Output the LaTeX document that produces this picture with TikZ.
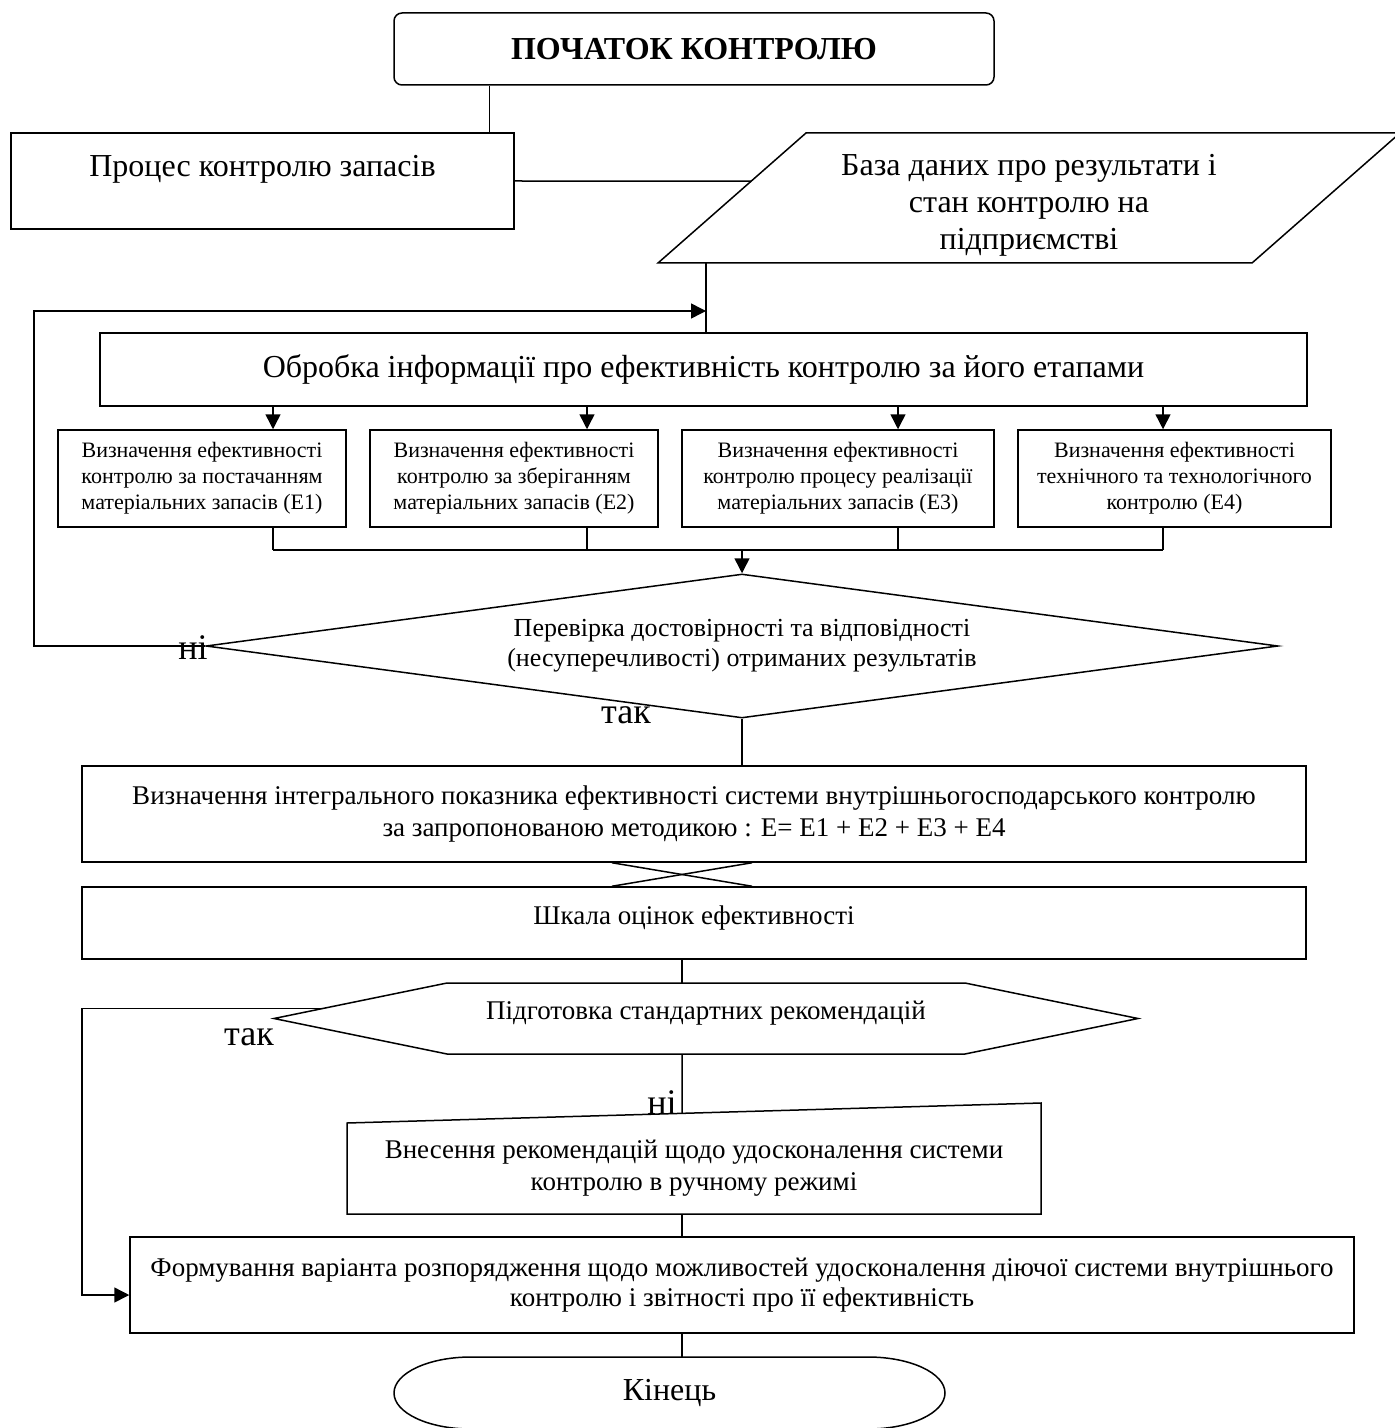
\documentclass[tikz,border=0pt]{standalone}
\usepackage{fontspec}
\setmainfont{Liberation Serif}
\usetikzlibrary{shapes.geometric, arrows.meta, calc}

\begin{document}
\begin{tikzpicture}[x=0.5pt, y=-0.5pt, line width=0.75pt,
    box/.style={draw=black, rectangle, inner sep=0pt, align=center},
    plain/.style={rectangle, inner sep=0pt, outer sep=0pt, align=center},
    arr/.style={-{Triangle[length=7.5pt, width=7.5pt]}},
    big/.style={font=\fontsize{16}{18.5}\selectfont},
    mid/.style={font=\fontsize{13.5}{16}\selectfont},
    small/.style={font=\fontsize{11}{13}\selectfont},
    lbl/.style={inner sep=0pt, font=\fontsize{18}{20}\selectfont}]
\useasboundingbox (0,0) rectangle (1395,1428);

% blocks
\node[box, rounded corners=4pt, minimum width=300pt, minimum height=36pt, font=\fontsize{16}{18.5}\selectfont\bfseries] (start) at (694,49) {ПОЧАТОК КОНТРОЛЮ};
\node[box, big, minimum width=251.5pt, minimum height=48pt, text height=11pt, text depth=15pt] (proc) at (262.5,181) {Процес контролю запасів};
\node[plain, big, minimum width=297pt, minimum height=65pt] (db) at (1029,198) {\rule{0pt}{18pt}База даних про результати і\\стан контролю на\\підприємстві};
\node[box, big, minimum width=603.5pt, minimum height=36.5pt] (obr) at (703.5,369.5) {Обробка інформації про ефективність контролю за його етапами};

\node[box, small, minimum width=144pt, minimum height=48.5pt] (e1) at (202,478.5) {Визначення ефективності\\контролю за постачанням\\матеріальних запасів (E1)};
\node[box, small, minimum width=144pt, minimum height=48.5pt] (e2) at (514,478.5) {Визначення ефективності\\контролю за зберіганням\\матеріальних запасів (E2)};
\node[box, small, minimum width=156pt, minimum height=48.5pt] (e3) at (838,478.5) {Визначення ефективності\\контролю процесу реалізації\\матеріальних запасів (E3)};
\node[box, small, minimum width=156.5pt, minimum height=48.5pt] (e4) at (1174.5,478.5) {Визначення ефективності\\технічного та технологічного\\контролю (E4)};

\node[draw=black, diamond, aspect=7.4, inner sep=0pt, minimum width=536pt, minimum height=72pt, align=center, font=\fontsize{13}{15}\selectfont] (dec) at (742,646) {Перевірка достовірності та відповідності\\(несуперечливості) отриманих результатів};

\node[box, mid, minimum width=612pt, minimum height=48pt] (integ) at (694,814) {Визначення інтегрального показника ефективності системи внутрішньогосподарського контролю\\за запропонованою методикою : E= E1 + E2 + E3 + E4};
\node[box, mid, minimum width=612pt, minimum height=36pt, text height=9pt, text depth=8pt] (scale) at (694,923) {Шкала оцінок ефективності};
\node[plain, mid, minimum width=259pt, minimum height=35.5pt, text height=9pt, text depth=8pt] (hex) at (706,1018.5) {Підготовка стандартних рекомендацій};
\node[plain, mid, minimum width=347pt, minimum height=45.5pt] (man) at (694,1168.5) {Внесення рекомендацій щодо удосконалення системи\\контролю в ручному режимі};
\node[box, mid, minimum width=612pt, minimum height=48pt, font=\fontsize{13.5}{15}\selectfont] (fin) at (742,1285) {Формування варіанта розпорядження щодо можливостей удосконалення діючої системи внутрішнього\\контролю і звітності про її ефективність};
\node[plain, big, minimum width=198.5pt, minimum height=36pt] (end) at (669.5,1393) {Кінець};

% outlines of the other shapes
\coordinate (dbSW) at ([xshift=-37pt]db.south west);
\coordinate (dbNW) at ([xshift=37pt]db.north west);
\draw (dbSW) -- ([xshift=-37pt]db.south east) -- ([xshift=37pt]db.north east) -- (dbNW) -- cycle;
\coordinate (hexW) at ([xshift=-86.5pt]hex.west);
\draw (hex.north west) -- (hex.north east) -- ([xshift=86.5pt]hex.east) -- (hex.south east) -- (hex.south west) -- (hexW) -- cycle;
\coordinate (manNE) at ([yshift=10pt]man.north east);
\draw (man.north west) -- (manNE) -- (man.south east) -- (man.south west) -- cycle;
\draw (end.north east) arc[start angle=90, end angle=-90, x radius=38.5pt, y radius=18pt]
      -- (end.south west) arc[start angle=270, end angle=90, x radius=38.5pt, y radius=18pt] -- cycle;

% connectors
\path (start.south west) ++(96,0) coordinate (s1);
\draw (s1) -- (s1 |- proc.north);
\draw (proc.east) -- ($(dbSW)!0.63!(dbNW)$);
\path (dbSW) ++(48,0) coordinate (dbout);
\draw (dbout) -- (dbout |- obr.north);
\coordinate (back) at (34,311);
\draw[arr] (dec.west) -| (back) -- (back -| dbout);

\foreach \i/\x in {1/273, 2/587, 3/898, 4/1163}{
  \draw[arr] (\x,0 |- obr.south) -- (\x,0 |- e\i.north);
  \draw (\x,0 |- e\i.south) -- (\x,550);
}
\draw (273,550) -- (1163,550);
\draw[arr] (dec.north |- 0,550) -- (dec.north);
\draw (dec.south) -- (dec.south |- integ.north);

\draw (integ.south -| 612,0) -- (scale.north -| 752,0);
\draw (integ.south -| 752,0) -- (scale.north -| 612,0);
\draw (scale.south -| 682,0) -- (hex.north -| 682,0);
\draw (hex.south -| 682,0) -- ($(man.north west)!0.483!(manNE)$);
\draw (man.south -| 682,0) -- (fin.north -| 682,0);
\draw (fin.south -| 682,0) -- (end.north -| 682,0);
\coordinate (tak) at ($(hexW)!0.28!(hex.north west)$);
\draw[arr] (tak) -| (82,1295) -- (fin.west |- 0,1295);

% labels
\node[lbl] (no1) at (193,648) {ні};
\node[lbl] (yes1) at (626,715) {так};
\node[lbl] (yes2) at (249,1037) {так};
\node[lbl] (no2) at (662,1103) {ні};
\end{tikzpicture}
\end{document}
